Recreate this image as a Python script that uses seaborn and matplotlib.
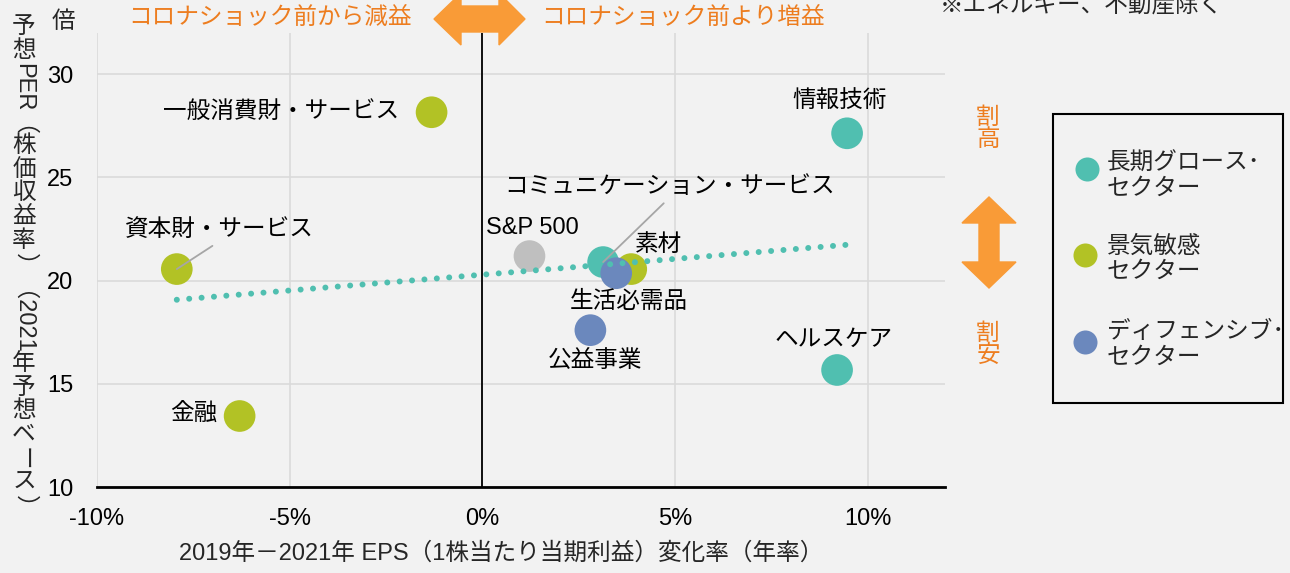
import numpy as np
import pandas as pd
import matplotlib.pyplot as plt
import matplotlib.patches as mpatches
from matplotlib.lines import Line2D
import seaborn as sns

# データ
sectors = ['情報技術', 'コミュニケーション・サービス', 'ヘルスケア',
           '一般消費財・サービス', '資本財・サービス', '素材', '金融',
           '生活必需品', '公益事業', 'S&P 500']
eps_growth = [9.46, 3.13, 9.20, -1.32, -7.93, 3.86, -6.30, 3.47, 2.80, 1.22]
fwd_per = [27.14, 20.90, 15.67, 28.16, 20.56, 20.56, 13.44, 20.36, 17.60, 21.19]
groups = ['長期グロース', '長期グロース', '長期グロース',
          '景気敏感', '景気敏感', '景気敏感', '景気敏感',
          'ディフェンシブ', 'ディフェンシブ', 'S&P 500']

x_ticks = [-10, -5, 0, 5, 10]
x_ticklabels = ['-10%', '-5%', '0%', '5%', '10%']
y_ticks = [10, 15, 20, 25, 30]

legend_labels = ['長期グロース･\nセクター', '景気敏感\nセクター', 'ディフェンシブ･\nセクター']

palette = {'長期グロース': '#50BFB0', '景気敏感': '#B2C225',
           'ディフェンシブ': '#6B88BD', 'S&P 500': '#BFBFBF'}
ORANGE_TXT = '#ED7D1F'
ORANGE_ARW = '#F99B37'
BG = '#F2F2F2'

# ラベル位置（ピクセルでのオフセット、右・上が正）
label_pos = {
    '情報技術': (-8, 32, 'center'),
    'コミュニケーション・サービス': (66, 75, 'center'),
    'ヘルスケア': (-3, 30, 'center'),
    '一般消費財・サービス': (-32, 0, 'right'),
    '資本財・サービス': (43, 39, 'center'),
    '素材': (27, 24, 'center'),
    '金融': (-22, 2, 'right'),
    '生活必需品': (13, -29, 'center'),
    '公益事業': (5, -31, 'center'),
    'S&P 500': (3, 28, 'center'),
}
leader = {'コミュニケーション・サービス', '資本財・サービス'}

df = pd.DataFrame({'sector': sectors, 'eps': eps_growth, 'per': fwd_per, 'group': groups})

sns.set_theme(style='white')
plt.rcParams['font.family'] = ['Liberation Sans', 'Noto Sans CJK JP']
plt.rcParams['font.size'] = 17

W, H = 1290, 573
fig = plt.figure(figsize=(W / 100, H / 100), dpi=100, facecolor=BG)
ax = fig.add_axes([97 / W, 1 - 487 / H, (945 - 97) / W, (487 - 33) / H])
ax.set_facecolor(BG)


def fx(px):
    return px / W


def fy(py):
    return 1 - py / H


# 近似直線（全セクター）
sns.regplot(data=df, x='eps', y='per', scatter=False, ci=None, truncate=True,
            color=palette['長期グロース'], ax=ax,
            line_kws=dict(lw=4.3, linestyle=(0, (0.01, 2.07)),
                          dash_capstyle='round', zorder=4))

sns.scatterplot(data=df, x='eps', y='per', hue='group', palette=palette,
                s=520, edgecolor='none', linewidth=0, legend=False, ax=ax, zorder=3)

for name, xv, yv in zip(sectors, eps_growth, fwd_per):
    dx, dy, ha = label_pos[name]
    arrow = None
    if name in leader:
        arrow = dict(arrowstyle='-', color='#A6A6A6', lw=1.3,
                     shrinkA=2, shrinkB=0, relpos=(0.5, 0))
    ax.annotate(name, (xv, yv), xytext=(dx, dy), textcoords='offset pixels',
                ha=ha, va='center', fontsize=17, color='black',
                arrowprops=arrow, zorder=5)

ax.set_xlim(-10, 12)
ax.set_ylim(10, 32)
ax.set_xticks(x_ticks)
ax.set_xticklabels(x_ticklabels)
ax.set_yticks(y_ticks)
ax.tick_params(axis='both', length=0, labelsize=17, colors='black')
ax.tick_params(axis='y', pad=17)
ax.tick_params(axis='x', pad=15)
ax.grid(True, color='#D9D9D9', lw=1.1)
ax.set_axisbelow(True)
for s in ['top', 'right', 'left']:
    ax.spines[s].set_visible(False)
ax.spines['bottom'].set_color('black')
ax.spines['bottom'].set_linewidth(2)
ax.axvline(0, color='black', lw=1.3, zorder=2)
ax.set_xlabel('')
ax.set_ylabel('')

# x軸ラベル
fig.text(fx(501), fy(553), '2019年－2021年 EPS（1株当たり当期利益）変化率（年率）',
         ha='center', va='center', fontsize=17)

# 縦書きのy軸ラベル
renderer = fig.canvas.get_renderer()
parts = [('予想', False), ('PER（', True), ('株価収益率', False), ('）（2021', True),
         ('年予想ベ', False), ('ー', True), ('ス', False), ('）', True)]
cur = 16
em = 17 * 100 / 72
for seg, rot in parts:
    if rot:
        t = fig.text(fx(24), fy(cur), seg, rotation=270, ha='center', va='top', fontsize=17)
        cur += t.get_window_extent(renderer).height
    else:
        for ch in seg:
            fig.text(fx(24), fy(cur), ch, ha='center', va='top', fontsize=17)
            cur += em

fig.text(fx(63), fy(22), '倍', ha='center', va='center', fontsize=17)

# 上部の注記と矢印
fig.text(fx(412), fy(18), 'コロナショック前から減益', ha='right', va='center',
         fontsize=17, color=ORANGE_TXT)
fig.text(fx(541), fy(18), 'コロナショック前より増益', ha='left', va='center',
         fontsize=17, color=ORANGE_TXT)
fig.text(fx(940), fy(5), '※エネルギー、不動産除く', ha='left', va='center', fontsize=17)

cy, sh, hh = 19, 13, 26
harrow = [(434, cy), (461, cy - hh), (461, cy - sh), (499, cy - sh), (499, cy - hh),
          (525, cy), (499, cy + hh), (499, cy + sh), (461, cy + sh), (461, cy + hh)]
fig.add_artist(mpatches.Polygon([(fx(a), fy(b)) for a, b in harrow], closed=True,
                                transform=fig.transFigure, color=ORANGE_ARW, zorder=6))

cx, sw, hw = 989, 10, 27
varrow = [(cx, 197), (cx + hw, 223), (cx + sw, 223), (cx + sw, 262), (cx + hw, 262),
          (cx, 288), (cx - hw, 262), (cx - sw, 262), (cx - sw, 223), (cx - hw, 223)]
fig.add_artist(mpatches.Polygon([(fx(a), fy(b)) for a, b in varrow], closed=True,
                                transform=fig.transFigure, color=ORANGE_ARW))
fig.text(fx(988), fy(129), '割\n高', ha='center', va='center', fontsize=17,
         color=ORANGE_TXT, linespacing=1.0)
fig.text(fx(988), fy(345), '割\n安', ha='center', va='center', fontsize=17,
         color=ORANGE_TXT, linespacing=1.0)

# 凡例（手描き）
fig.add_artist(mpatches.Rectangle((fx(1053), fy(403)), (1283 - 1053) / W, (403 - 114) / H,
                                  transform=fig.transFigure, fill=False,
                                  edgecolor='black', lw=1.5))
leg_items = [('長期グロース', 1087, 169, 176), ('景気敏感', 1085, 255, 259),
             ('ディフェンシブ', 1085, 342, 345)]
for (grp, mx, my, ty), lab in zip(leg_items, legend_labels):
    fig.add_artist(Line2D([fx(mx)], [fy(my)], marker='o', markersize=17.3,
                          color=palette[grp], markeredgewidth=0,
                          transform=fig.transFigure))
    fig.text(fx(1107), fy(ty), lab, ha='left', va='center', fontsize=17, linespacing=1.2)

fig.savefig('out.png', dpi=100, facecolor=BG)
